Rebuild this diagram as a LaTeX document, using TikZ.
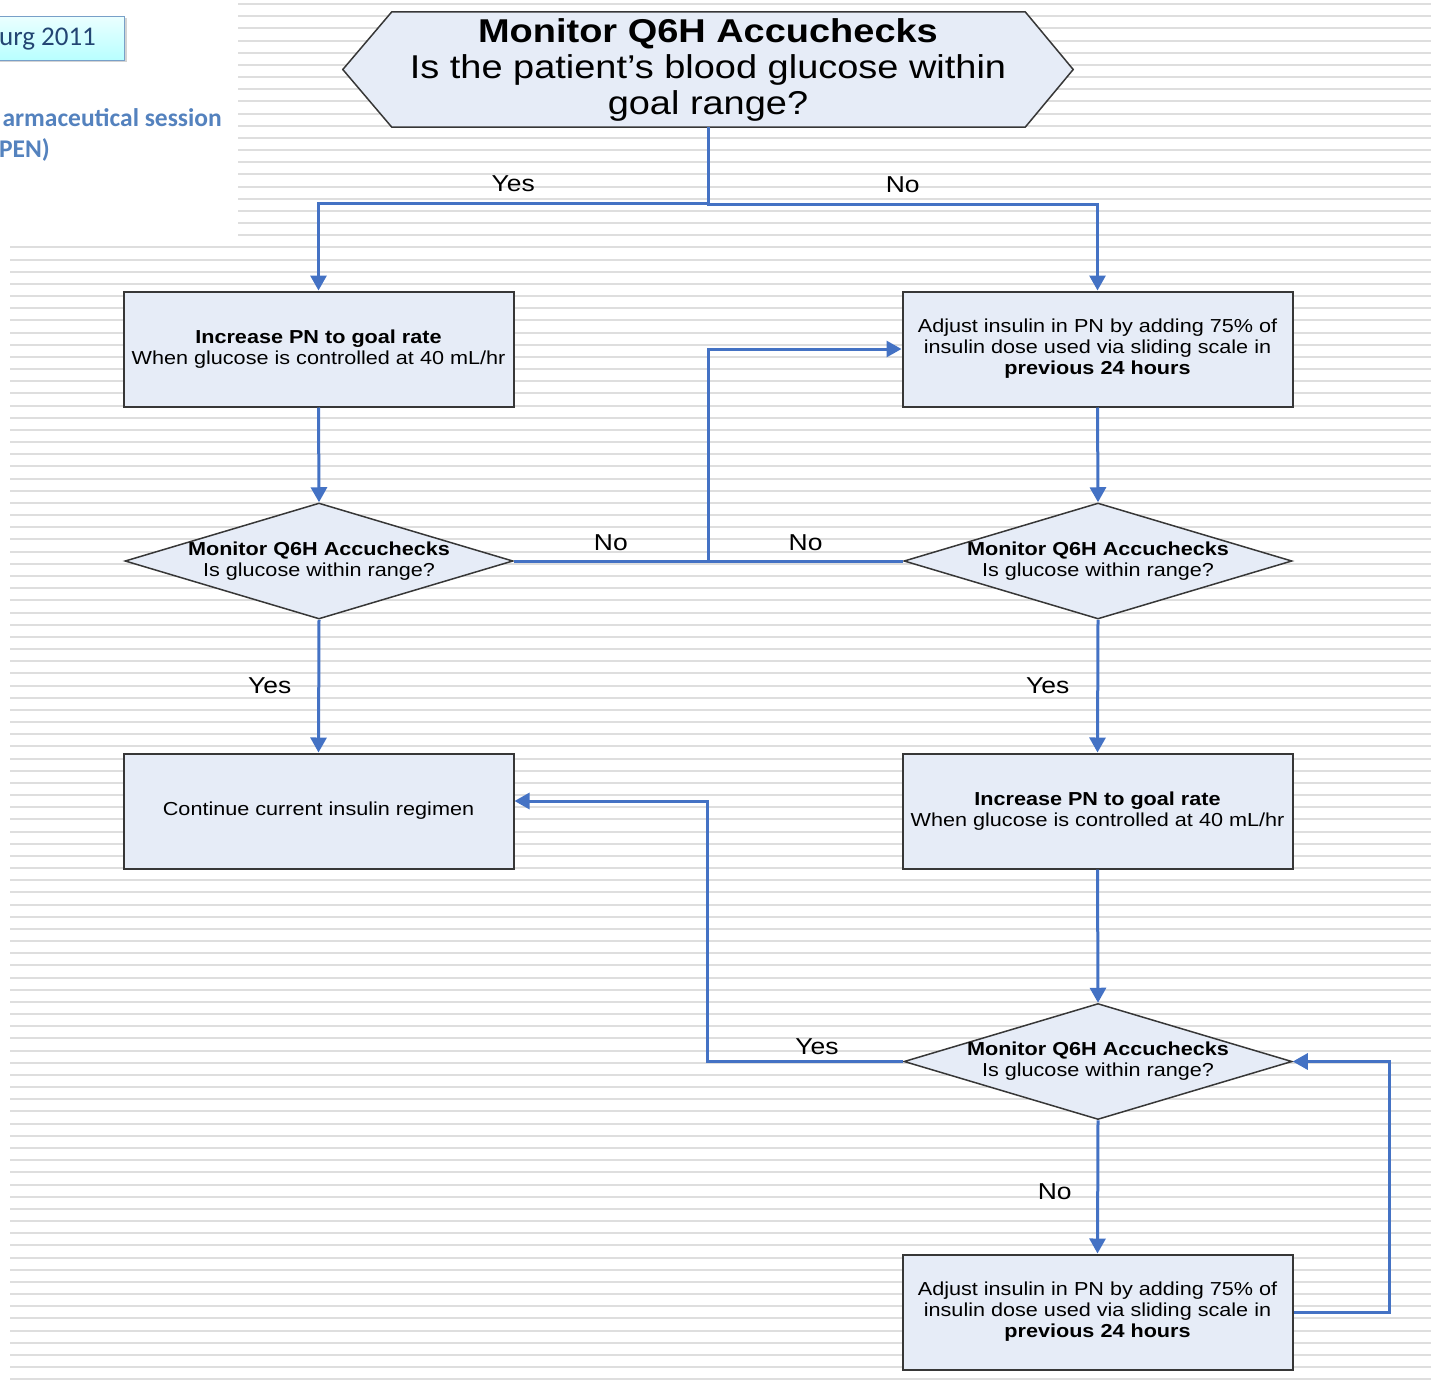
\documentclass[tikz,border=0pt]{standalone}
\usepackage{fontspec}
\setmainfont{Liberation Sans}[FakeStretch=1.15]
\newfontfamily\slidefont{Carlito}
\usepackage{tikz}
\usetikzlibrary{shapes.geometric}
\usetikzlibrary{arrows.meta}
\usetikzlibrary{backgrounds}
\usetikzlibrary{shadows}

\definecolor{flowblue}{RGB}{68,114,196}
\definecolor{boxfill}{RGB}{230,236,247}
\definecolor{boxline}{RGB}{55,55,55}
\definecolor{stripe}{RGB}{222,222,222}
\definecolor{slideblue}{RGB}{84,130,190}
\definecolor{slidedark}{RGB}{35,70,115}
\definecolor{dateline}{RGB}{120,160,200}

\newcommand{\smalltext}{\fontsize{18.8}{21}\selectfont}
\newcommand{\bigtext}{\fontsize{33}{36}\selectfont}
\newcommand{\lbltext}{\fontsize{23}{26}\selectfont}

\tikzset{
  box/.style={draw=boxline, fill=boxfill, line width=2pt, minimum width=390pt,
    minimum height=115pt, align=center, font=\smalltext, inner sep=0pt},
  decision/.style={diamond, draw=boxline, fill=boxfill, line width=1.5pt,
    minimum width=388pt, minimum height=116pt, inner sep=0pt},
  checktext/.style={align=center, font=\smalltext, inner sep=0pt},
  flow/.style={draw=flowblue, line width=3pt, -{Triangle[length=15pt,width=16pt]}},
  link/.style={draw=flowblue, line width=3pt},
  lbl/.style={font=\lbltext, inner sep=0pt},
  slidetext/.style={font={\slidefont\fontsize{25.5}{30}\selectfont\bfseries},
    text=slideblue, inner sep=0pt}
}

\begin{document}
\begin{tikzpicture}[x=1pt, y=-1pt]
  \useasboundingbox (0,0) rectangle (1431,1383);
  \clip (0,0) rectangle (1431,1383);

  % ruled page behind the chart
  \begin{scope}[on background layer]
    \foreach \k in {0,...,19}
      \draw[stripe, line width=2pt] (238,{4+12.17*\k}) -- (1431,{4+12.17*\k});
    \foreach \k in {20,...,113}
      \draw[stripe, line width=2pt] (10,{4+12.17*\k}) -- (1431,{4+12.17*\k});
  \end{scope}

  % slide header left over at the top left
  \node[draw=dateline, line width=1pt, top color=cyan!8, bottom color=cyan!28,
    drop shadow={shadow xshift=2pt, shadow yshift=-2pt, opacity=0.35},
    anchor=north east, minimum width=154pt, minimum height=44pt, inner sep=0pt,
    text depth=4pt, text=slidedark, font={\slidefont\fontsize{27}{30}\selectfont}]
    (datebox) at (125,16) {urg 2011};
  \node[slidetext, anchor=base east] (session) at (222,127) {armaceutical session};
  \node[slidetext, anchor=base east] (society) at (50,158) {PEN)};

  % start
  \node[minimum width=730pt, minimum height=115pt, align=center, font=\bigtext,
    inner sep=0pt] (top) at (708,69.5)
    {\textbf{Monitor Q6H Accuchecks}\\Is the patient’s blood glucose within\\goal range?};
  \begin{scope}[on background layer]
    \draw[boxline, fill=boxfill, line width=1.5pt] (top.west)
      -- ([xshift=49pt]top.north west) -- ([xshift=-48pt]top.north east)
      -- (top.east) -- ([xshift=-48pt]top.south east)
      -- ([xshift=49pt]top.south west) -- cycle;
  \end{scope}

  % left column
  \node[box] (inc1) at (318.5,349)
    {\textbf{Increase PN to goal rate}\\When glucose is controlled at 40 mL/hr};
  \node[decision, label={[checktext]center:{\textbf{Monitor Q6H Accuchecks}\\Is glucose within range?}}]
    (decL) at (319,561) {};
  \node[box] (cont) at (318.5,811) {Continue current insulin regimen};

  % right column
  \node[box] (adj1) at (1097.5,349)
    {Adjust insulin in PN by adding 75\% of\\insulin dose used via sliding scale in\\\textbf{previous 24 hours}};
  \node[decision, label={[checktext]center:{\textbf{Monitor Q6H Accuchecks}\\Is glucose within range?}}]
    (decR) at (1098,561) {};
  \node[box] (inc2) at (1097.5,811)
    {\textbf{Increase PN to goal rate}\\When glucose is controlled at 40 mL/hr};
  \node[decision, label={[checktext]center:{\textbf{Monitor Q6H Accuchecks}\\Is glucose within range?}}]
    (dec3) at (1098,1061.5) {};
  \node[box] (adj2) at (1097.5,1312)
    {Adjust insulin in PN by adding 75\% of\\insulin dose used via sliding scale in\\\textbf{previous 24 hours}};

  \coordinate (nojoin) at (708,561);

  % connectors
  \draw[flow] (top.south) -- ++(0,76) -| node[lbl, pos=0.25, yshift=19pt]{Yes} (inc1.north);
  \draw[flow] (top.south) -- ++(0,77) -| node[lbl, pos=0.25, yshift=19pt]{No} (adj1.north);
  \draw[flow] (inc1.south) -- (decL.north);
  \draw[flow] (adj1.south) -- (decR.north);
  \draw[link] (decL.east) -- node[lbl, midway, yshift=18pt]{No} (nojoin);
  \draw[flow] (decR.west) -- node[lbl, midway, yshift=18pt]{No} (nojoin) |- (adj1.west);
  \draw[flow] (decL.south) -- node[lbl, midway, xshift=-49pt]{Yes} (cont.north);
  \draw[flow] (decR.south) -- node[lbl, midway, xshift=-50pt]{Yes} (inc2.north);
  \draw[flow] (inc2.south) -- (dec3.north);
  \draw[flow] (dec3.west) -- node[lbl, pos=0.44, yshift=15pt]{Yes} ++(-196,0) |- ([yshift=10pt]cont.east);
  \draw[flow] (dec3.south) -- node[lbl, midway, xshift=-43pt, yshift=-5pt]{No} (adj2.north);
  \draw[flow] (adj2.east) -- ++(96,0) |- (dec3.east);
\end{tikzpicture}
\end{document}
